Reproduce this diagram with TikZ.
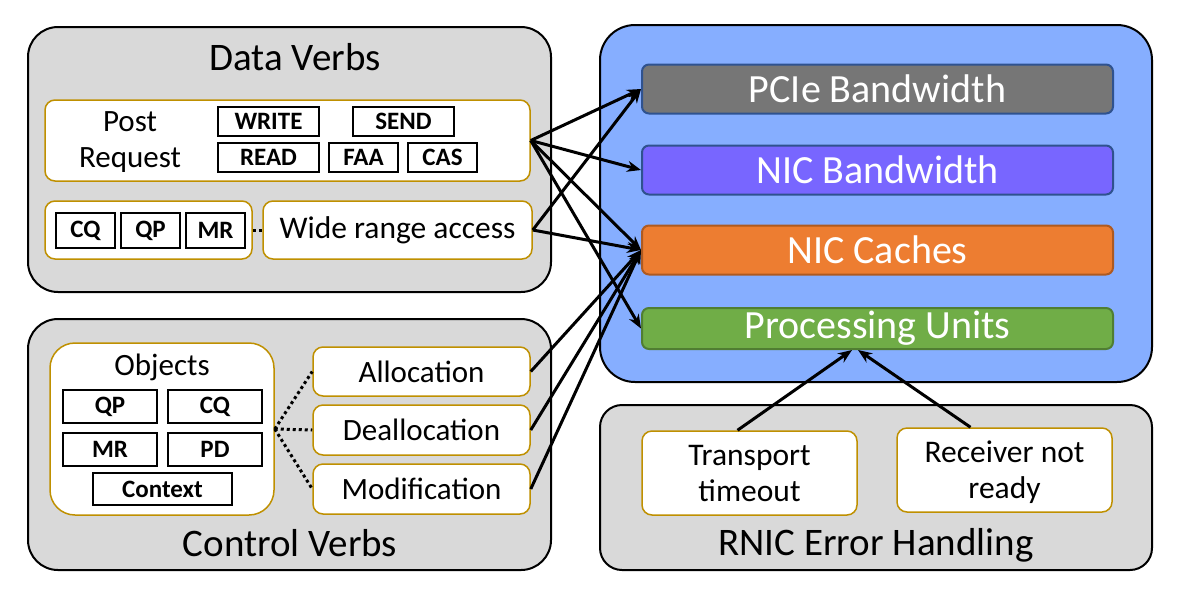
\documentclass[tikz,border=0pt]{standalone}
\usepackage{fontspec}
\setmainfont{Carlito}
\usetikzlibrary{arrows.meta,calc}
\definecolor{gbg}{HTML}{D9D9D9}
\definecolor{gold}{HTML}{BF9000}
\definecolor{bluebg}{HTML}{86AEFF}
\definecolor{pcie}{HTML}{767676}
\definecolor{nicbw}{HTML}{7866FF}
\definecolor{nicc}{HTML}{ED7D31}
\definecolor{pu}{HTML}{70AD47}
\definecolor{dblue}{HTML}{2F528F}
\definecolor{dorange}{HTML}{AE5A21}
\definecolor{dgreen}{HTML}{507E32}
\newcommand{\fs}[1]{\fontsize{#1}{36}\selectfont}
\begin{document}
\begin{tikzpicture}[x=1pt,y=-1pt,
  outer/.style={draw=black, line width=2pt, rounded corners=30pt, inner sep=0},
  inner/.style={draw=gold, line width=1.5pt, fill=white, rounded corners=10pt, inner sep=0, align=center},
  tag/.style={draw=black, line width=1.5pt, fill=white, inner sep=0, font=\bfseries\fs{25}},
  bar/.style={line width=2pt, rounded corners=7pt, inner sep=0, text=white, font=\fs{40}, minimum width=471, minimum height=49},
  ttl/.style={font=\fs{39}, inner sep=0},
  arr/.style={-{Stealth[length=14pt,width=11pt]}, line width=3pt},
  dots/.style={line width=3pt, dash pattern=on 3pt off 3pt}
]
\useasboundingbox (0,0) rectangle (1177,598);
% ---------- Data Verbs ----------
\node[outer, fill=gbg, minimum width=523, minimum height=265] (dv) at (289.5,159.5) {};
\node[ttl] (dvt) at (295,57) {Data Verbs};
\node[inner, minimum width=485, minimum height=81] (pr) at (287.5,140.5) {};
\node[font=\fs{31}, align=center, inner sep=0] (prt) at (130,142) {Post\\Request};
\node[tag, minimum width=101, minimum height=29] (write) at (268.5,121.5) {WRITE};
\node[tag, minimum width=101, minimum height=29] (send) at (403.5,121.5) {SEND};
\node[tag, minimum width=101, minimum height=29] (read) at (268.5,157.5) {READ};
\node[tag, minimum width=69, minimum height=29] (faa) at (363.5,157.5) {FAA};
\node[tag, minimum width=69, minimum height=29] (cas) at (442.5,157.5) {CAS};
\node[inner, minimum width=207, minimum height=58] (objs) at (148.5,230) {};
\node[tag, minimum width=59, minimum height=35] (cq1) at (85.5,230.5) {CQ};
\node[tag, minimum width=59, minimum height=35] (qp1) at (150.5,230.5) {QP};
\node[tag, minimum width=59, minimum height=35] (mr1) at (215.5,230.5) {MR};
\node[inner, minimum width=269, minimum height=58, font=\fs{31.5}] (wr) at (397.5,230) {Wide range access};
\draw[dots] (objs.east) -- (wr.west);
% ---------- Control Verbs ----------
\node[outer, fill=gbg, minimum width=523, minimum height=251] (cv) at (289.5,444.5) {};
\node[ttl] (cvt) at (290,543) {Control Verbs};
\node[inner, rounded corners=25pt, minimum width=224, minimum height=172] (ob) at (162,429) {};
\node[font=\fs{31}, inner sep=0] (obt) at (162,367) {Objects};
\node[tag, minimum width=94, minimum height=33] (qp2) at (110,406.5) {QP};
\node[tag, minimum width=94, minimum height=33] (cq2) at (215,406.5) {CQ};
\node[tag, minimum width=94, minimum height=33] (mr2) at (110,449.5) {MR};
\node[tag, minimum width=94, minimum height=33] (pd2) at (215,449.5) {PD};
\node[tag, minimum width=139, minimum height=32] (ctx) at (162.5,489) {Context};
\node[inner, minimum width=217, minimum height=49, font=\fs{31}] (alloc) at (421.5,371.5) {Allocation};
\node[inner, minimum width=217, minimum height=50, font=\fs{31}] (dealloc) at (421.5,430) {Deallocation};
\node[inner, minimum width=217, minimum height=50, font=\fs{31}] (modif) at (421.5,489) {Modification};
\draw[dots] (ob.east) -- (alloc.west);
\draw[dots] (ob.east) -- (dealloc.west);
\draw[dots] (ob.east) -- (modif.west);
% ---------- RNIC resources ----------
\node[outer, fill=bluebg, rounded corners=35pt, minimum width=552, minimum height=357] (rn) at (876,203.5) {};
\node[bar, fill=pcie, draw=dblue] (pcie) at (877.5,89) {PCIe Bandwidth};
\node[bar, fill=nicbw, draw=dblue] (nicbw) at (877.5,170) {NIC Bandwidth};
\node[bar, fill=nicc, draw=dorange] (nicc) at (877.5,250) {NIC Caches};
\node[bar, fill=pu, draw=dgreen, minimum height=41] (pu) at (877.5,328.5) {Processing Units};
% ---------- RNIC Error Handling ----------
\node[outer, fill=gbg, rounded corners=22pt, minimum width=552, minimum height=165] (eh) at (876,487.5) {};
\node[ttl] (eht) at (876,545) {RNIC Error Handling};
\node[inner, minimum width=215, minimum height=84, font=\fs{31.5}, text depth=0pt] (tt) at (749.5,473) {Transport\\timeout};
\node[inner, minimum width=215, minimum height=84, font=\fs{31.5}, text depth=0pt] (rnr) at (1004.5,470) {Receiver not\\ready};
\coordinate (puin1) at (852,350);
\coordinate (puin2) at (858,350);
% ---------- arrows ----------
\draw[arr] (pr.east) -- (pcie.west);
\draw[arr] (pr.east) -- (nicbw.west);
\draw[arr] (pr.east) -- (nicc.west);
\draw[arr] (pr.east) -- (pu.west);
\draw[arr] (wr.east) -- (pcie.west);
\draw[arr] (wr.east) -- (nicc.west);
\draw[arr] (alloc.east) -- (nicc.west);
\draw[arr] (dealloc.east) -- (nicc.west);
\draw[arr] (modif.east) -- (nicc.west);
\draw[arr] ([xshift=-12pt]tt.north) -- (puin1);
\draw[arr] ([xshift=-34pt]rnr.north) -- (puin2);
\end{tikzpicture}
\end{document}
